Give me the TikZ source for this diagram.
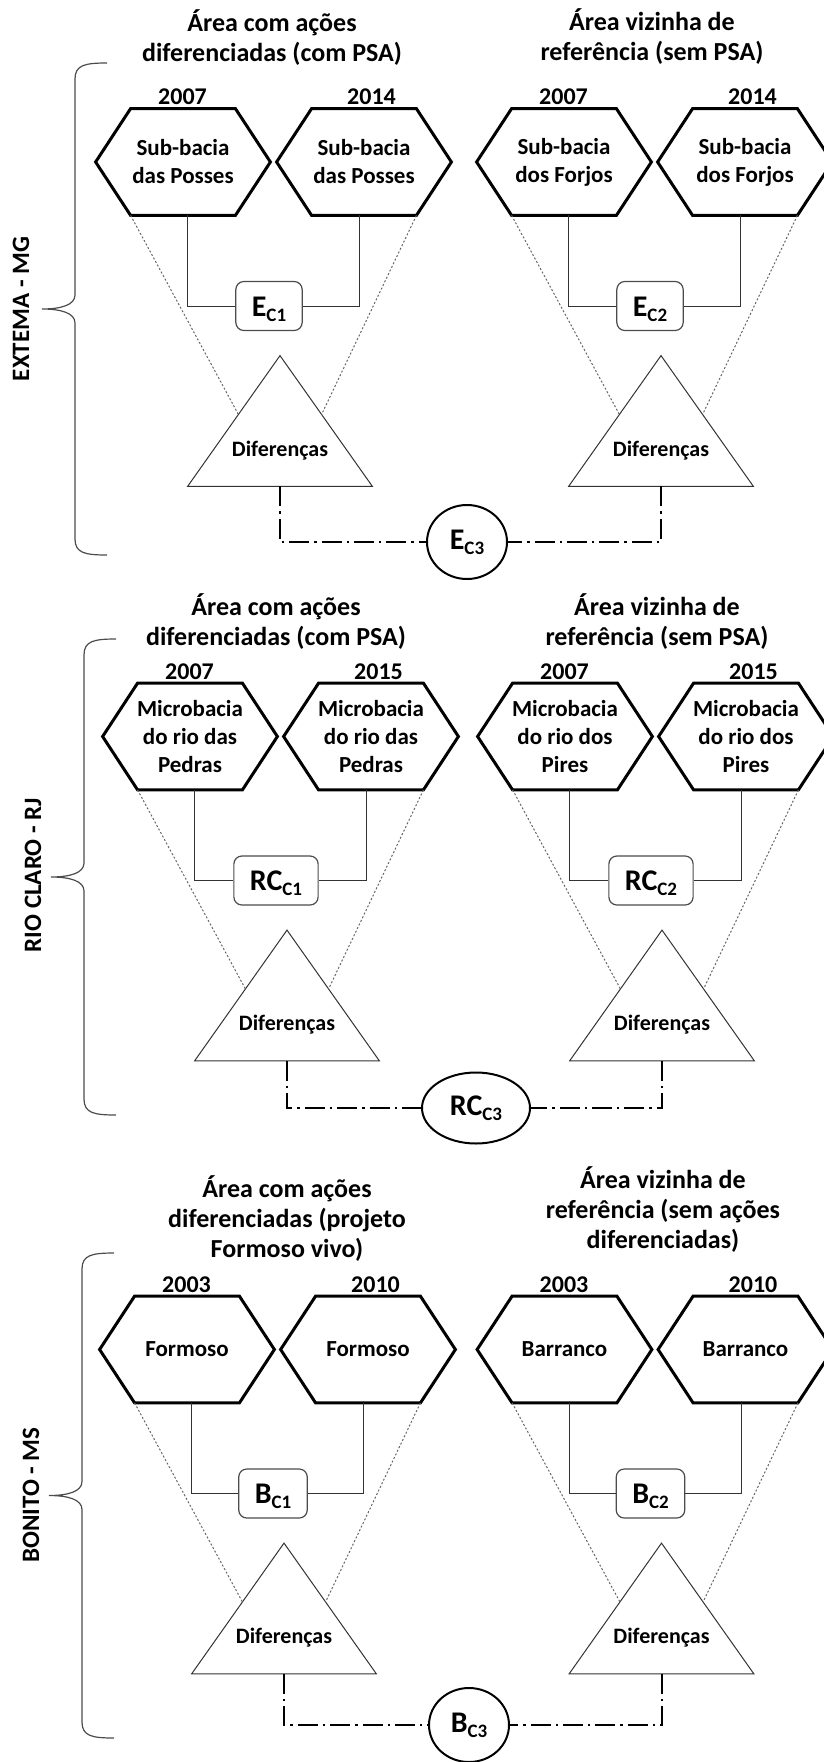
\documentclass[tikz,border=0pt]{standalone}
\usepackage{fontspec}
\setmainfont{Carlito}
\usetikzlibrary{calc,shapes.geometric}

\tikzset{
  hexbox/.style={minimum width=87pt, minimum height=53pt, inner sep=0pt, align=center,
    font=\fontsize{11.5}{14}\selectfont\bfseries},
  hexline/.style={line width=1.5pt},
  yearlbl/.style={font=\fontsize{12}{12}\selectfont\bfseries},
  resbox/.style={draw=black!70, line width=0.6pt, rounded corners=4pt, fill=white,
    minimum height=24.5pt, inner xsep=8pt, inner ysep=2pt, text height=12pt, text depth=2pt},
  resell/.style={draw, ellipse, line width=1pt, fill=white, minimum width=40pt,
    minimum height=37pt, inner sep=1pt},
  tribox/.style={minimum width=92pt, minimum height=65pt, inner sep=0pt},
  triline/.style={draw=black!80, line width=0.5pt},
  difflbl/.style={font=\fontsize{11}{12}\selectfont\bfseries},
  joinline/.style={draw=black!80, line width=0.5pt},
  zoomline/.style={draw=black!60, line width=0.5pt, dash pattern=on 1pt off 1pt},
  dashdot/.style={line width=1pt, dash pattern=on 10pt off 2.5pt on 1.2pt off 2.5pt},
  areatitle/.style={align=center, font=\fontsize{13}{15}\selectfont\bfseries},
  sitelbl/.style={rotate=90, font=\fontsize{12.5}{13}\selectfont\bfseries},
  curly/.style={draw=black!70, line width=0.6pt},
}

\newcommand\Idx[2]{{\fontsize{15}{15}\selectfont\bfseries #1}\raisebox{-2.5pt}{\fontsize{9.5}{10}\selectfont\bfseries #2}}

\newcommand\Hexa[3]{%
    \node[hexbox] (#1) at (#2) {#3};
    \draw[hexline] (#1.west) -- ([xshift=17.5pt]#1.north west) -- ([xshift=-17.5pt]#1.north east)
        -- (#1.east) -- ([xshift=-17.5pt]#1.south east) coordinate (#1-br)
        -- ([xshift=17.5pt]#1.south west) coordinate (#1-bl) -- cycle;
}
\newcommand\Compare[6]{%
    \begin{scope}[shift={(#2)}]
        \Hexa{#1a}{-90.5,0}{#5}
        \Hexa{#1b}{90.5,0}{#5}
        \node[yearlbl] (#1ya) at (-91,-65) {#3};
        \node[yearlbl] (#1yb) at (98,-65) {#4};
        \node[resbox] (#1r) at (-4.5,144) {#6};
        \draw[joinline] ([xshift=2.25pt]#1a.south) |- (#1r.west);
        \draw[joinline] ([xshift=-2.25pt]#1b.south) |- (#1r.east);
        \node[tribox] (#1t) at (6.5,259) {};
        \draw[triline] (#1t.south west) -- (#1t.north) -- (#1t.south east) -- cycle;
        \node[difflbl] (#1d) at ([yshift=18pt]#1t.south) {Diferenças};
        \draw[zoomline] (#1a-bl) -- ($(#1t.south west)!0.55!(#1t.north)$);
        \draw[zoomline] (#1b-br) -- ($(#1t.south east)!0.55!(#1t.north)$);
    \end{scope}
}
\newcommand\Curly[2]{%
    \begin{scope}[shift={(#1)}]
        \draw[curly] (0,-#2) .. controls (-22,-#2) and (-32,{-#2+2}) .. (-32,{-#2+16})
            -- (-32,-14) .. controls (-32,-4) and (-46,0) .. (-65,0)
            .. controls (-46,0) and (-32,4) .. (-32,14)
            -- (-32,{#2-16}) .. controls (-32,{#2-2}) and (-22,#2) .. (0,#2);
    \end{scope}
}

\begin{document}
\begin{tikzpicture}[x=0.5pt, y=-0.5pt]
    \useasboundingbox (0,0) rectangle (824,1762);
    % Extema
    \node[areatitle] (ta1) at (272,38) {Área com ações\\diferenciadas (com PSA)};
    \node[areatitle] (tb1) at (652,37) {Área vizinha de\\referência (sem PSA)};
    \Compare{ea}{273.5,162}{2007}{2014}{Sub-bacia\\das Posses}{\Idx{E}{C1}}
    \Compare{eb}{654.5,162}{2007}{2014}{Sub-bacia\\dos Forjos}{\Idx{E}{C2}}
    \node[resell] (e3) at (467,542) {\Idx{E}{C3}};
    \draw[dashdot] (eat.south) |- (e3.west);
    \draw[dashdot] (ebt.south) |- (e3.east);
    \Curly{107,309}{246}
    \node[sitelbl] (s1) at (21,309) {EXTEMA - MG};

    % Rio Claro
    \node[areatitle] (ta2) at (276,622) {Área com ações\\diferenciadas (com PSA)};
    \node[areatitle] (tb2) at (657,622) {Área vizinha de\\referência (sem PSA)};
    \Compare{ra}{280.5,736.5}{2007}{2015}{Microbacia\\do rio das\\Pedras}{\Idx{RC}{C1}}
    \Compare{rb}{655.5,736.5}{2007}{2015}{Microbacia\\do rio dos\\Pires}{\Idx{RC}{C2}}
    \node[resell, minimum width=54pt, minimum height=35.5pt] (r3) at (476,1108) {\Idx{RC}{C3}};
    \draw[dashdot] (rat.south) |- (r3.west);
    \draw[dashdot] (rbt.south) |- (r3.east);
    \Curly{116,877}{238}
    \node[sitelbl] (s2) at (33,875) {RIO CLARO - RJ};

    % Bonito
    \node[areatitle] (ta3) at (287,1219) {Área com ações\\diferenciadas (projeto\\Formoso vivo)};
    \node[areatitle] (tb3) at (663,1210) {Área vizinha de\\referência (sem ações\\diferenciadas)};
    \Compare{ba}{277.5,1349.5}{2003}{2010}{Formoso}{\Idx{B}{C1}}
    \Compare{bb}{655,1349.5}{2003}{2010}{Barranco}{\Idx{B}{C2}}
    \node[resell] (b3) at (469,1725) {\Idx{B}{C3}};
    \draw[dashdot] (bat.south) |- (b3.west);
    \draw[dashdot] (bbt.south) |- (b3.east);
    \Curly{114,1495.5}{242.5}
    \node[sitelbl] (s3) at (31,1495) {BONITO - MS};
\end{tikzpicture}
\end{document}
